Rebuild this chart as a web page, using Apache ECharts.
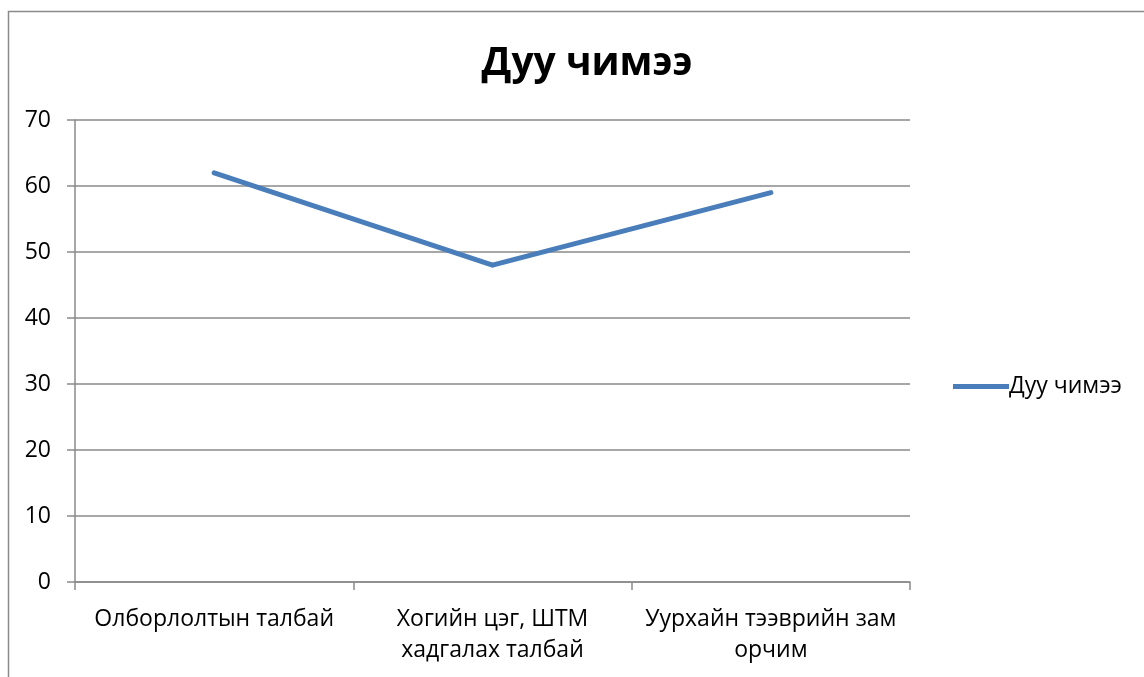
<!DOCTYPE html>
<html><head><meta charset="utf-8">
<script src="https://cdn.jsdelivr.net/npm/echarts@6/dist/echarts.min.js"></script>
<style>html,body{margin:0;padding:0;background:#fff}#c{width:1144px;height:677px}</style>
</head><body><div id="c"></div>
<script>
const titleText = 'Дуу чимээ';
const categories = ['Олборлолтын талбай', 'Хогийн цэг, ШТМ\nхадгалах талбай', 'Уурхайн тээврийн зам\nорчим'];
const seriesName = 'Дуу чимээ';
const values = [62, 48, 59];
const yMin = 0, yMax = 70, yStep = 10;

const font = '"Open Sans", "Noto Sans", sans-serif';
const chart = echarts.init(document.getElementById('c'), null, {renderer: 'canvas'});
chart.setOption({
  backgroundColor: '#fff',
  animation: false,
  graphic: [{
    type: 'rect', left: 6, top: 9, silent: true,
    shape: {width: 1200, height: 700},
    style: {fill: 'none', stroke: '#8a8a8a', lineWidth: 1.5}
  }],
  title: {
    text: titleText, left: 582, top: 39, textAlign: 'center',
    textStyle: {fontFamily: font, fontSize: 39, fontWeight: 'bold', color: '#000'}
  },
  legend: {
    data: [seriesName], left: 948, top: 370, orient: 'vertical',
    itemWidth: 56, itemHeight: 14, itemGap: 0,
    icon: 'path://M0,0 L56,0 L56,5 L0,5 Z',
    textStyle: {fontFamily: font, fontSize: 23, color: '#000', padding: [0,0,0,-5]}
  },
  grid: {left: 75, right: 234, top: 120, bottom: 95, containLabel: false},
  xAxis: {
    type: 'category', data: categories, boundaryGap: true,
    axisLine: {lineStyle: {color: '#8a8a8a', width: 1.5}},
    axisTick: {show: true, length: 8, lineStyle: {color: '#8a8a8a', width: 1.5}},
    axisLabel: {fontFamily: font, fontSize: 23, color: '#000', margin: 22, lineHeight: 31, interval: 0}
  },
  yAxis: {
    type: 'value', min: yMin, max: yMax, interval: yStep,
    axisLine: {show: true, lineStyle: {color: '#8a8a8a', width: 1.5}},
    axisTick: {show: true, length: 8, lineStyle: {color: '#8a8a8a', width: 1.5}},
    splitLine: {lineStyle: {color: '#8a8a8a', width: 1.5}},
    axisLabel: {fontFamily: font, fontSize: 23, color: '#000', margin: 24}
  },
  series: [{
    name: seriesName, type: 'line', data: values,
    symbol: 'none', color: '#4a7ebb',
    lineStyle: {width: 5, color: '#4a7ebb', cap: 'round', join: 'round'}
  }]
});
</script></body></html>
